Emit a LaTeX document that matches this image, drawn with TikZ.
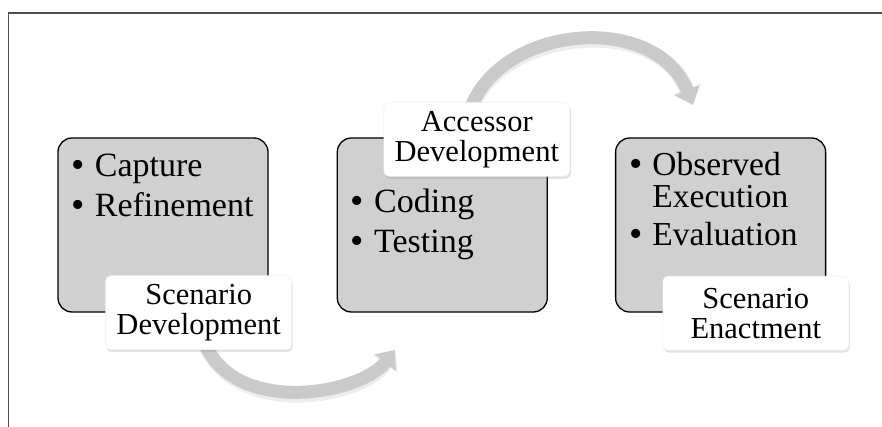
\documentclass[tikz,border=0pt]{standalone}
\usepackage{fontspec}
\setmainfont{Liberation Serif}
\usepackage{xcolor}
\definecolor{boxgray}{HTML}{D0D0D0}
\definecolor{arrowgray}{HTML}{CACACA}
\definecolor{framegray}{HTML}{4D4D4D}
\usetikzlibrary{arrows.meta,positioning,calc,shadows,backgrounds}
\newcommand{\stagedot}{\raisebox{-1.5pt}{\fontsize{38}{40}\selectfont\textbullet}}

\begin{document}
\begin{tikzpicture}[
  x=1pt, y=-1pt,
  node distance=68pt,
  stage/.style={rectangle,draw=black,line width=1.3pt,fill=boxgray,
                rounded corners=14pt,minimum width=210pt,minimum height=174pt,
                inner sep=0pt},
  tag/.style={rectangle,fill=white,draw=black!8,rounded corners=5pt,
              minimum width=186pt,minimum height=74pt,align=center,inner sep=0pt,
              font=\fontsize{30.5}{30}\selectfont,
              drop shadow={shadow xshift=1pt,shadow yshift=-2.5pt,opacity=0.22}},
  items/.style={anchor=base west,inner sep=0pt,font=\fontsize{34}{40}\selectfont},
  flow/.style={arrowgray,line width=13pt,-{Triangle[length=16pt,width=26pt]}},
  flowshade/.style={black!7,line width=15pt,-{Triangle[length=17pt,width=29pt]}},
]
  \useasboundingbox (0,0) rectangle (882,427);
  \draw[framegray,line width=1.5pt] (8.5,427) |- (882,13);

  % the three stages
  \node[stage] (scen) at (163,225) {};
  \node[stage,right=of scen] (acc) {};
  \node[stage,right=67pt of acc] (enact) {};

  \node[items] (scenlist) at ($(scen.north west)+(14,39)$)
    {\begin{tabular}[t]{@{}l@{\hspace{10pt}}l@{}}
       \stagedot & Capture\\
       \stagedot & Refinement
     \end{tabular}};
  \node[items] (acclist) at ($(acc.north west)+(14,75)$)
    {\begin{tabular}[t]{@{}l@{\hspace{10pt}}l@{}}
       \stagedot & Coding\\
       \stagedot & Testing
     \end{tabular}};
  \node[items,font=\fontsize{33.5}{32.5}\selectfont] (enactlist)
    at ($(enact.north west)+(14,38)$)
    {\begin{tabular}[t]{@{}l@{\hspace{10pt}}l@{}}
       \stagedot & Observed\\
                 & Execution\\[4.5pt]
       \stagedot & Evaluation
     \end{tabular}};

  % stage names
  \node[tag] (scentag) at ($(scen.south east)+(-70,0)$) {Scenario\\Development};
  \node[tag] (acctag) at ($(acc.north)+(34.5,2)$) {Accessor\\Development};
  \node[tag] (enacttag) at ($(enact.south east)+(-70.5,0.5)$) {Scenario\\Enactment};

  \coordinate (go1) at ($(scentag.south)+(5,-9)$);
  \coordinate (to1) at (395,350);
  \coordinate (go2) at ($(acctag.north)+(-7,9)$);
  \coordinate (to2) at (693,105);

  \begin{scope}[on background layer]
    \draw[flowshade,shift={(1.5,3.5)}] (go1) .. controls (233,417) and (360,395) .. (to1);
    \draw[flow] (go1) .. controls (233,417) and (360,395) .. (to1);
    \draw[flowshade,shift={(1.5,3.5)}] (go2) .. controls (498,25) and (655,10) .. (to2);
    \draw[flow] (go2) .. controls (498,25) and (655,10) .. (to2);
  \end{scope}
\end{tikzpicture}
\end{document}
